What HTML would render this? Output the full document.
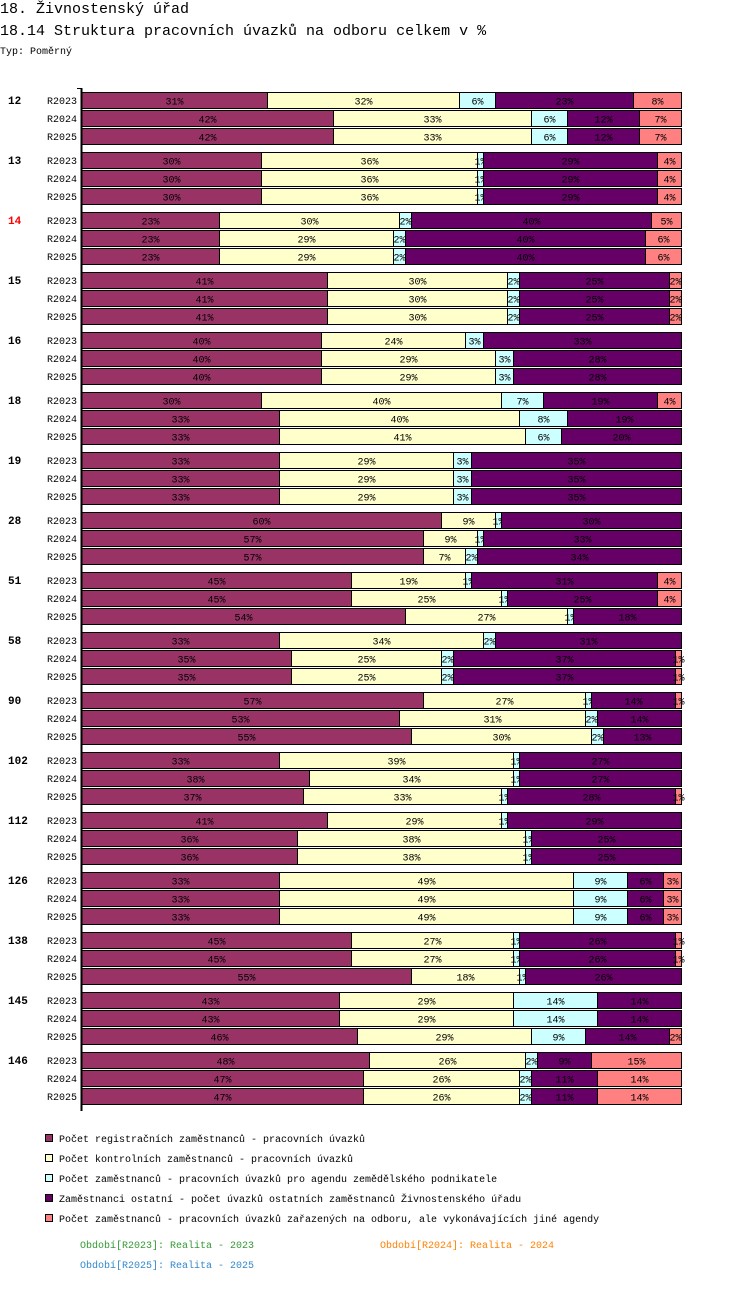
<!DOCTYPE html>
<html><head><meta charset="utf-8"><style>
body{margin:0;background:#fff;width:750px;height:1302px;overflow:hidden;font-family:"Liberation Mono","DejaVu Sans Mono",monospace}
svg text{font-family:"Liberation Mono","DejaVu Sans Mono",monospace}
</style></head><body>
<svg id="c" width="750" height="1302" xmlns="http://www.w3.org/2000/svg">
<text x="0" y="13" font-size="15">18. Živnostenský úřad</text>
<text x="0" y="35" font-size="15">18.14 Struktura pracovních úvazků na odboru celkem v %</text>
<text x="0" y="54" font-size="10">Typ: Poměrný</text>
</svg>
<script>
const groups=["12","13","14","15","16","18","19","28","51","58","90","102","112","126","138","145","146"];
const periods=["R2023","R2024","R2025"];
const values=[
[[31,32,6,23,8],[42,33,6,12,7],[42,33,6,12,7]],
[[30,36,1,29,4],[30,36,1,29,4],[30,36,1,29,4]],
[[23,30,2,40,5],[23,29,2,40,6],[23,29,2,40,6]],
[[41,30,2,25,2],[41,30,2,25,2],[41,30,2,25,2]],
[[40,24,3,33,0],[40,29,3,28,0],[40,29,3,28,0]],
[[30,40,7,19,4],[33,40,8,19,0],[33,41,6,20,0]],
[[33,29,3,35,0],[33,29,3,35,0],[33,29,3,35,0]],
[[60,9,1,30,0],[57,9,1,33,0],[57,7,2,34,0]],
[[45,19,1,31,4],[45,25,1,25,4],[54,27,1,18,0]],
[[33,34,2,31,0],[35,25,2,37,1],[35,25,2,37,1]],
[[57,27,1,14,1],[53,31,2,14,0],[55,30,2,13,0]],
[[33,39,1,27,0],[38,34,1,27,0],[37,33,1,28,1]],
[[41,29,1,29,0],[36,38,1,25,0],[36,38,1,25,0]],
[[33,49,9,6,3],[33,49,9,6,3],[33,49,9,6,3]],
[[45,27,1,26,1],[45,27,1,26,1],[55,18,1,26,0]],
[[43,29,14,14,0],[43,29,14,14,0],[46,29,9,14,2]],
[[48,26,2,9,15],[47,26,2,11,14],[47,26,2,11,14]]];
const series=["Počet registračních zaměstnanců - pracovních úvazků","Počet kontrolních zaměstnanců - pracovních úvazků","Počet zaměstnanců - pracovních úvazků pro agendu zemědělského podnikatele","Zaměstnanci ostatní - počet úvazků ostatních zaměstnanců Živnostenského úřadu","Počet zaměstnanců - pracovních úvazků zařazených na odboru, ale vykonávajících jiné agendy"];
const colors=["#993366","#ffffcc","#ccffff","#660066","#ff8080"];
const NS="http://www.w3.org/2000/svg",svg=document.getElementById('c');
const X0=81,W=600;
function xs(p){return X0+p/100*W;}
function gy(g,r){return 92+g*60+r*18;}
function mk(t,a,p){const e=document.createElementNS(NS,t);for(const k in a)e.setAttribute(k,a[k]);(p||svg).appendChild(e);return e;}
groups.forEach((g,gi)=>{
 const gl=mk('text',{x:8,y:gy(gi,0)+12,'font-size':11,'font-weight':'bold',fill:g==="14"?"#ff0000":"#000"});gl.textContent=g;
 
 
 periods.forEach((p,pi)=>{
  const y=gy(gi,pi);
  const rl=mk('text',{x:77,y:y+12,'font-size':10,'text-anchor':'end'});rl.textContent=p;
  
  
  const v=values[gi][pi];const tot=v.reduce((a,b)=>a+b,0);let acc=0;
  v.forEach((val,si)=>{
   if(!val)return;
   const x1=xs(acc/tot*100),x2=xs((acc+val)/tot*100);acc+=val;
   const r=mk('rect',{x:x1+0.5,y:y+0.5,width:x2-x1,height:16,fill:colors[si],stroke:'#000','stroke-width':1});
   
   
   const t=mk('text',{x:(x1+x2)/2+0.5,y:y+12.5,'font-size':10,'text-anchor':'middle',fill:'#000'});t.textContent=val+'%';
   
   
  });
 });
});
const ax=mk('line',{x1:81.5,y1:88,x2:81.5,y2:1111,stroke:'#000','stroke-width':2});


const tk=mk('line',{x1:77,y1:88.5,x2:81,y2:88.5,stroke:'#000'});


series.forEach((s,i)=>{
 const y=1134+i*20;
 const r=mk('rect',{x:45.5,y:y+0.5,width:7,height:7,fill:colors[i],stroke:'#000'});
 
 
 const t=mk('text',{x:59,y:y+8,'font-size':10});t.textContent=s;
 
 
});
[["Období[R2023]: Realita - 2023",80,1248,"#339933"],["Období[R2024]: Realita - 2024",380,1248,"#ff8000"],["Období[R2025]: Realita - 2025",80,1268,"#3388cc"]].forEach(f=>{
 const t=mk('text',{x:f[1],y:f[2],'font-size':10,fill:f[3]});t.textContent=f[0];
 
 
});
</script>
</body></html>
